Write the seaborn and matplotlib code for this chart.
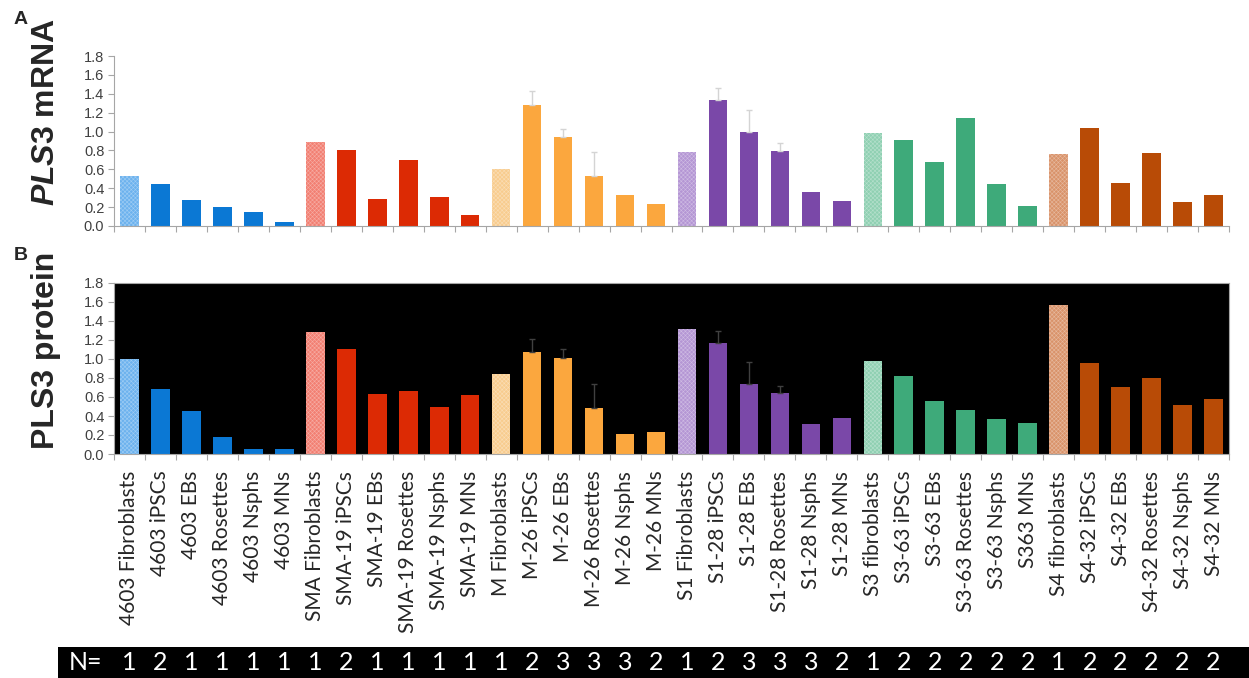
import numpy as np
import pandas as pd
import matplotlib
matplotlib.use("Agg")
import matplotlib.pyplot as plt
import matplotlib.transforms as mtransforms
from matplotlib.patches import Rectangle
import seaborn as sns

sns.set_style("white")
plt.rcParams['font.family'] = ['Liberation Sans', 'DejaVu Sans']
plt.rcParams['hatch.linewidth'] = 0.4
plt.rcParams['mathtext.fontset'] = 'custom'
plt.rcParams['mathtext.it'] = 'Liberation Sans:italic:bold'
plt.rcParams['mathtext.rm'] = 'Liberation Sans:bold'

# ---- data ----
labels = [
    "4603 Fibroblasts", "4603 iPSCs", "4603 EBs", "4603 Rosettes", "4603 Nsphs", "4603 MNs",
    "SMA Fibroblasts", "SMA-19 iPSCs", "SMA-19 EBs", "SMA-19 Rosettes", "SMA-19 Nsphs", "SMA-19 MNs",
    "M Fibroblasts", "M-26 iPSCs", "M-26 EBs", "M-26 Rosettes", "M-26 Nsphs", "M-26 MNs",
    "S1 Fibroblasts", "S1-28 iPSCs", "S1-28 EBs", "S1-28 Rosettes", "S1-28 Nsphs", "S1-28 MNs",
    "S3 fibroblasts", "S3-63 iPSCs", "S3-63 EBs", "S3-63 Rosettes", "S3-63 Nsphs", "S363 MNs",
    "S4 fibroblasts", "S4-32 iPSCs", "S4-32 EBs", "S4-32 Rosettes", "S4-32 Nsphs", "S4-32 MNs",
]
mrna = [0.53, 0.44, 0.28, 0.20, 0.145, 0.04,
        0.89, 0.80, 0.29, 0.70, 0.31, 0.12,
        0.60, 1.28, 0.94, 0.53, 0.325, 0.235,
        0.78, 1.33, 1.00, 0.79, 0.36, 0.26,
        0.98, 0.91, 0.68, 1.14, 0.44, 0.21,
        0.76, 1.04, 0.46, 0.77, 0.25, 0.33]
mrna_err = [0, 0, 0, 0, 0, 0,
            0, 0, 0, 0, 0, 0,
            0, 0.15, 0.09, 0.25, 0, 0,
            0, 0.13, 0.23, 0.09, 0, 0,
            0, 0, 0, 0, 0, 0,
            0, 0, 0, 0, 0, 0]
protein = [1.00, 0.68, 0.45, 0.18, 0.05, 0.05,
           1.28, 1.10, 0.63, 0.66, 0.49, 0.62,
           0.84, 1.07, 1.01, 0.48, 0.21, 0.235,
           1.32, 1.165, 0.74, 0.64, 0.32, 0.38,
           0.975, 0.82, 0.56, 0.46, 0.365, 0.33,
           1.57, 0.96, 0.71, 0.80, 0.52, 0.58]
protein_err = [0, 0, 0, 0, 0, 0,
               0, 0, 0, 0, 0, 0,
               0, 0.14, 0.10, 0.26, 0, 0,
               0, 0.125, 0.225, 0.08, 0, 0,
               0, 0, 0, 0, 0, 0,
               0, 0, 0, 0, 0, 0]
n_values = [1, 2, 1, 1, 1, 1,
            1, 2, 1, 1, 1, 1,
            1, 2, 3, 3, 3, 2,
            1, 2, 3, 3, 3, 2,
            1, 2, 2, 2, 2, 2,
            1, 2, 2, 2, 2, 2]

group_dark = ["#0B78D4", "#DC2A04", "#FBA73E", "#7A48A8", "#3EAA7A", "#B84B06"]
group_light = ["#6CB2EE", "#F27F72", "#F8CC8E", "#B496D4", "#8FD0B2", "#D9936A"]

colors = []
for g in range(6):
    colors += [group_light[g]] + [group_dark[g]] * 5
palette = dict(zip(labels, colors))

df = pd.DataFrame({"label": labels, "mrna": mrna, "protein": protein})

fig = plt.figure(figsize=(12.49, 6.78), dpi=100)
axA = fig.add_axes([114 / 1249, 1 - 226 / 678, 1115 / 1249, 170 / 678])
axB = fig.add_axes([114 / 1249, 1 - 454 / 678, 1115 / 1249, 171 / 678])

spine_col = "#a6a6a6"


def draw_panel(ax, col, err, err_col, bg):
    sns.barplot(data=df, x="label", y=col, hue="label", palette=palette,
                legend=False, width=0.6, saturation=1, ax=ax, linewidth=0)
    ax.set_facecolor(bg)
    # fibroblast bars get a fine stipple texture
    for i, bar in enumerate(ax.patches):
        if i % 6 == 0:
            bar.set_hatch("xxxxxxxx")
            bar.set_edgecolor((1, 1, 1, 0.35))
            bar.set_linewidth(0)
    x = np.arange(len(labels))
    e = np.array(err)
    m = e > 0
    ax.errorbar(x[m], np.array(df[col])[m], yerr=[np.zeros(m.sum()), e[m]],
                fmt="none", ecolor=err_col, elinewidth=1, capsize=2.5, capthick=1)
    ax.set_ylim(0, 1.8)
    ax.set_xlim(-0.5, len(labels) - 0.5)
    ax.set_yticks(np.arange(0, 1.81, 0.2))
    ax.set_yticklabels([f"{v:.1f}" for v in np.arange(0, 1.81, 0.2)])
    ax.set_xticks(np.arange(-0.5, len(labels), 1), minor=True)
    ax.tick_params(axis="x", which="major", length=0)
    ax.tick_params(axis="x", which="minor", length=4, width=0.8, color=spine_col,
                   direction="out", bottom=True)
    ax.tick_params(axis="y", length=4, width=0.8, color=spine_col, direction="out",
                   left=True, labelsize=10.5, labelcolor="#404040", pad=3)
    ax.set_xlabel("")
    ax.set_ylabel("")


draw_panel(axA, "mrna", mrna_err, "#d4d4d4", "white")
draw_panel(axB, "protein", protein_err, "#404040", "black")

for s in ["top", "right"]:
    axA.spines[s].set_visible(False)
for s in ["left", "bottom"]:
    axA.spines[s].set_color(spine_col)
for s in axB.spines.values():
    s.set_color(spine_col)

axA.set_xticklabels([])
axB.set_xticks(np.arange(len(labels)))
axB.set_xticklabels(labels, rotation=90, family=["Lato", "DejaVu Sans"], fontsize=15)
axB.tick_params(axis="x", which="major", pad=12)

fig.text(46 / 1249, 1 - 112 / 678, r"$\it{PLS3}$ mRNA", rotation=90, ha="center",
         va="center", fontsize=23, fontweight="bold")
fig.text(46 / 1249, 1 - 350 / 678, "PLS3 protein", rotation=90, ha="center",
         va="center", fontsize=23, fontweight="bold")

fig.text(21 / 1249, 1 - 20 / 678, "A", ha="center", va="center", fontsize=14, fontweight="bold")
fig.text(21 / 1249, 1 - 255 / 678, "B", ha="center", va="center", fontsize=14, fontweight="bold")

# N= row
fig.add_artist(Rectangle((58 / 1249, 0), 1 - 58 / 1249, 31 / 678, transform=fig.transFigure,
                         facecolor="black", edgecolor="none"))
fig.text(86 / 1249, 15 / 678, "N=", color="white", ha="center", va="center",
         fontsize=18, family=["Lato", "DejaVu Sans"])
trans = mtransforms.blended_transform_factory(axB.transData, fig.transFigure)
for i, n in enumerate(n_values):
    fig.text(i, 15 / 678, str(n), color="white", ha="center", va="center",
             fontsize=18, family=["Lato", "DejaVu Sans"], transform=trans)

fig.savefig("out.png", dpi=100)
